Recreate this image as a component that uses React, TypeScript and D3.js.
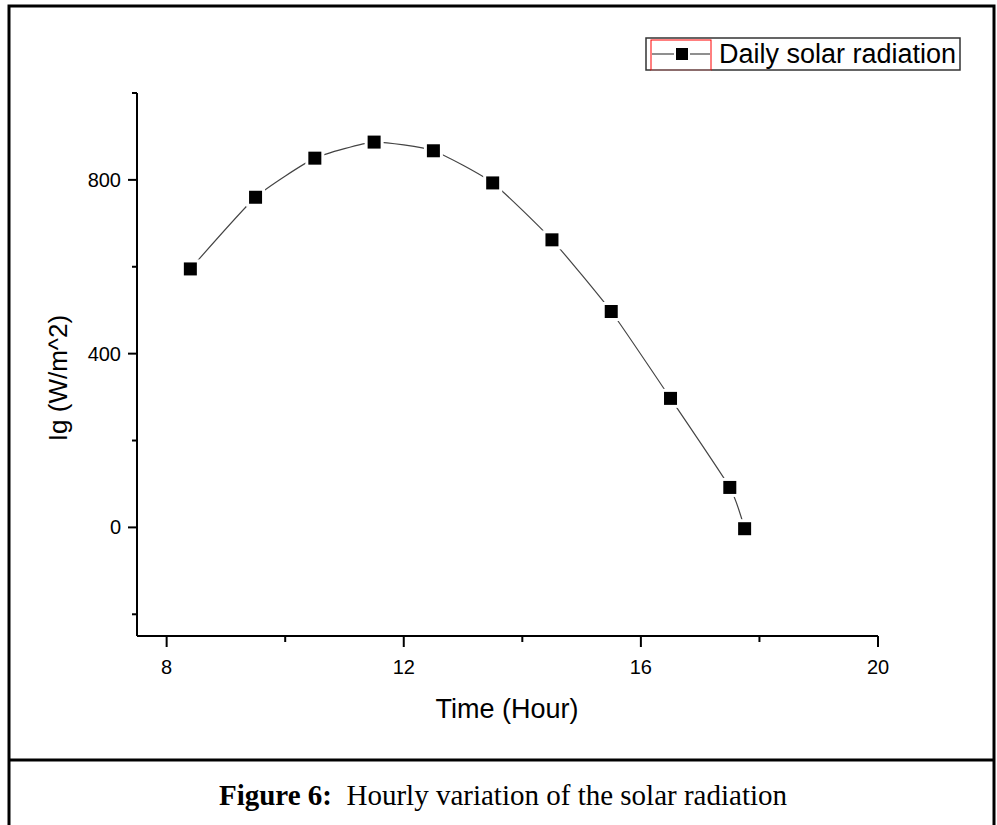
import React from 'react'
import * as d3 from 'd3'

// hourly readings
const hours = [8.4, 9.5, 10.5, 11.5, 12.5, 13.5, 14.5, 15.5, 16.5, 17.5, 17.75]
const radiation = [595, 760, 850, 887, 867, 793, 662, 497, 297, 92, -3]

const xMajor = [8, 12, 16, 20]
const xMinor = [10, 14, 18]
const yMajor = [0, 400, 800]
const yMinor = [-200, 200, 600, 1000]

const W = 997
const H = 825
const sans = '"Liberation Sans", Arial, sans-serif'
const serif = '"Liberation Serif", "Times New Roman", serif'

const left = 137, right = 878, top = 93, bottom = 636

export default function App() {
    const x = d3.scaleLinear().domain([7.5, 20]).range([left, right])
    const y = d3.scaleLinear().domain([-250, 1000]).range([bottom, top])

    const pts: [number, number][] = hours.map((h, i) => [x(h), y(radiation[i])])
    const path = d3.line().curve(d3.curveCardinal.tension(0.5))(pts)

    const m = 13 // marker size

    return (
        <svg width={W} height={H} style={{ position: 'absolute', left: 0, top: 0, background: 'white' }}>
            {/* frame */}
            <rect x={9} y={6} width={985} height={822} fill="none" stroke="black" strokeWidth={3} />
            <line x1={9} x2={994} y1={760} y2={760} stroke="black" strokeWidth={3} />

            {/* axes */}
            <line x1={left} x2={left} y1={top} y2={bottom} stroke="black" strokeWidth={2} />
            <line x1={left} x2={right} y1={bottom} y2={bottom} stroke="black" strokeWidth={2} />

            {xMajor.map(t => (
                <g key={'xm' + t}>
                    <line x1={x(t)} x2={x(t)} y1={bottom} y2={bottom + 11} stroke="black" strokeWidth={2} />
                    <text x={x(t)} y={bottom + 38} textAnchor="middle" fontFamily={sans} fontSize={20}>{t}</text>
                </g>
            ))}
            {xMinor.map(t => (
                <line key={'xn' + t} x1={x(t)} x2={x(t)} y1={bottom} y2={bottom + 6} stroke="black" strokeWidth={2} />
            ))}
            {yMajor.map(t => (
                <g key={'ym' + t}>
                    <line x1={left - 9} x2={left} y1={y(t)} y2={y(t)} stroke="black" strokeWidth={2} />
                    <text x={left - 16} y={y(t) + 7} textAnchor="end" fontFamily={sans} fontSize={20}>{t}</text>
                </g>
            ))}
            {yMinor.map(t => (
                <line key={'yn' + t} x1={left - 5} x2={left} y1={y(t)} y2={y(t)} stroke="black" strokeWidth={2} />
            ))}

            <text x={507} y={718} textAnchor="middle" fontFamily={sans} fontSize={27}>Time (Hour)</text>
            <text transform="translate(67,378) rotate(-90)" textAnchor="middle" fontFamily={sans} fontSize={26}>Ig (W/m^2)</text>

            {/* series */}
            <path d={path || ''} fill="none" stroke="#444" strokeWidth={1.2} />
            {pts.map((p, i) => (
                <g key={i}>
                    <rect x={p[0] - m / 2 - 3} y={p[1] - m / 2 - 3} width={m + 6} height={m + 6} fill="white" />
                    <rect x={p[0] - m / 2} y={p[1] - m / 2} width={m} height={m} fill="black" />
                </g>
            ))}

            {/* legend */}
            <rect x={646} y={38} width={314} height={32} fill="white" stroke="#333" strokeWidth={1.5} />
            <line x1={651} x2={711} y1={70} y2={70} stroke="cyan" strokeWidth={1.5} />
            <rect x={651} y={40} width={60} height={30} fill="none" stroke="red" strokeWidth={1} />
            <line x1={652} x2={674} y1={54} y2={54} stroke="#444" strokeWidth={1.2} />
            <line x1={690} x2={710} y1={54} y2={54} stroke="#444" strokeWidth={1.2} />
            <rect x={676} y={48} width={12} height={12} fill="black" />
            <text x={719} y={63} fontFamily={sans} fontSize={27}>Daily solar radiation</text>

            {/* caption */}
            <text x={503} y={805} textAnchor="middle" fontFamily={serif} fontSize={29}>
                <tspan fontWeight="bold">Figure 6:</tspan>
                <tspan xmlSpace="preserve">{'  Hourly variation of the solar radiation'}</tspan>
            </text>
        </svg>
    )
}
